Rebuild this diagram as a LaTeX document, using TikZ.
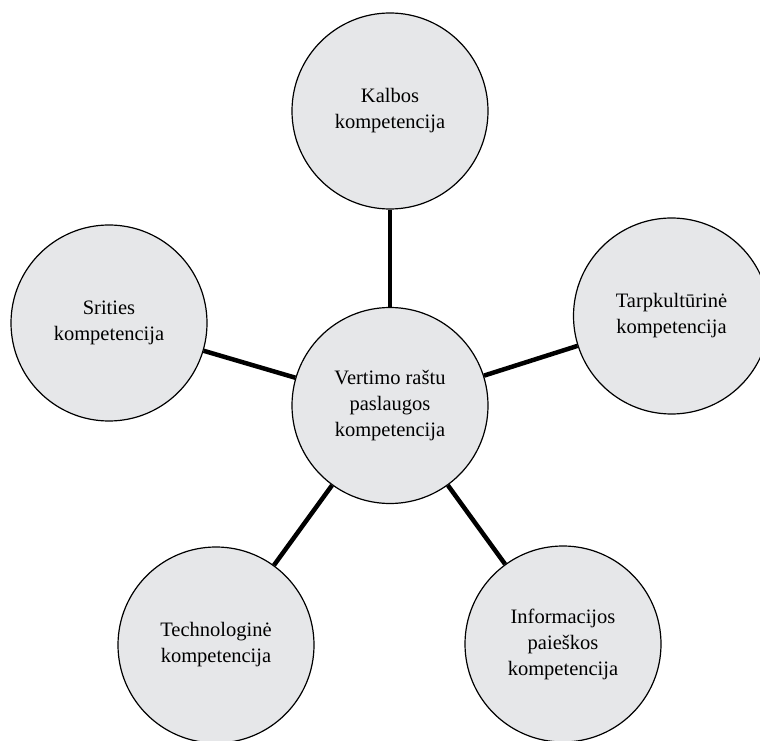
\documentclass[tikz,border=0pt]{standalone}
\usepackage{fontspec}
\setmainfont{Liberation Serif}
\definecolor{circfill}{RGB}{230,231,233}
\tikzset{
  comp/.style={circle, draw=black, line width=1.2pt, fill=circfill, minimum size=196pt, inner sep=0pt,
    align=center, font=\fontsize{20.5pt}{26pt}\selectfont},
  link/.style={line width=4.5pt, black}
}
\begin{document}
\begin{tikzpicture}[x=1pt,y=1pt]
\useasboundingbox (0,0) rectangle (760,740);
\node[comp] (C) at (390,334.5) {Vertimo raštu\\paslaugos\\kompetencija};
\node[comp] (T) at (390,629) {Kalbos\\kompetencija};
\node[comp] (R) at (671.5,424) {Tarpkultūrinė\\kompetencija};
\node[comp] (L) at (109,417) {Srities\\kompetencija};
\node[comp] (BL) at (216,95) {Technologinė\\kompetencija};
\node[comp] (BR) at (563,96) {Informacijos\\paieškos\\kompetencija};
\draw[link] (C) -- (T);
\draw[link] (C) -- (R);
\draw[link] (C) -- (L);
\draw[link] (C) -- (BL);
\draw[link] (C) -- (BR);
\end{tikzpicture}
\end{document}
